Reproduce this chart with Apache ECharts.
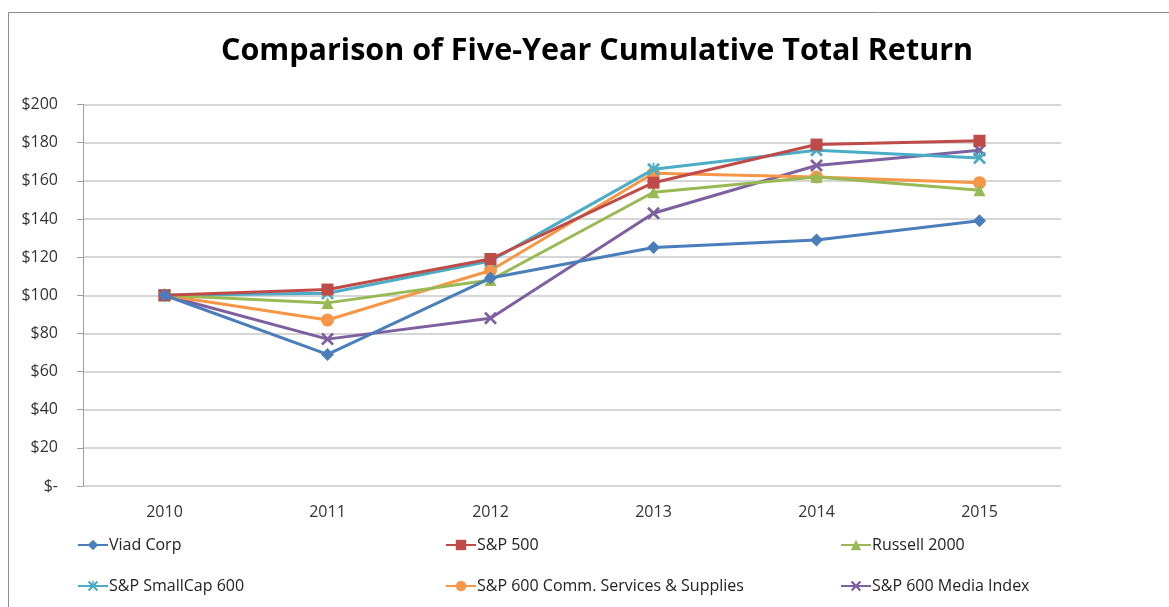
<!DOCTYPE html>
<html>
<head>
<meta charset="utf-8">
<script src="https://cdn.jsdelivr.net/npm/echarts@6/dist/echarts.min.js"></script>
<style>html,body{margin:0;padding:0;background:#fff}#c{width:1169px;height:607px}</style>
</head>
<body>
<div id="c"></div>
<script>
const years = ['2010','2011','2012','2013','2014','2015'];
const viad = [100, 69, 109, 125, 129, 139];
const sp500 = [100, 103, 119, 159, 179, 181];
const russell = [100, 96, 108, 154, 162, 155];
const smallcap = [100, 101, 118, 166, 176, 172];
const commServ = [100, 87, 113, 164, 162, 159];
const media = [100, 77, 88, 143, 168, 176];
const seriesNames = ['Viad Corp','S&P 500','Russell 2000','S&P SmallCap 600','S&P 600 Comm. Services & Supplies','S&P 600 Media Index'];
const yTicks = [0,20,40,60,80,100,120,140,160,180,200];

const colors = ['#4A7EBB','#BE4B48','#98B954','#4BACC6','#F79646','#7D60A0'];
const xPath = 'path://M0,1.5L1.5,0L5,3.5L8.5,0L10,1.5L6.5,5L10,8.5L8.5,10L5,6.5L1.5,10L0,8.5L3.5,5Z';
const starPath = 'path://M0,1.5L1.5,0L4.3,2.8L4.3,0L5.7,0L5.7,2.8L8.5,0L10,1.5L6.5,5L10,8.5L8.5,10L5,6.5L1.5,10L0,8.5L3.5,5Z';
const symbols = ['diamond','rect','triangle',starPath,'circle',xPath];
const sizes = [13,12,12,13,13,13];
const datasets = [viad, sp500, russell, smallcap, commServ, media];

const font = 'Open Sans, Noto Sans, sans-serif';
const legendPos = [[72,532],[440,532],[835,532],[72,573],[440,573],[835,573]];

const chart = echarts.init(document.getElementById('c'));
chart.setOption({
  animation: false,
  backgroundColor: '#fff',
  title: {
    text: 'Comparison of Five-Year Cumulative Total Return',
    left: 216, top: 31,
    textStyle: {fontFamily: font, fontSize: 30.5, fontWeight: 'bold', color: '#000'}
  },
  graphic: [{
    type: 'rect', shape: {x: 8.5, y: 12.5, width: 1200, height: 700},
    style: {fill: 'none', stroke: '#8c8c8c', lineWidth: 1}, silent: true
  }],
  legend: seriesNames.map((n, i) => ({
    data: [n], left: legendPos[i][0], top: legendPos[i][1],
    itemWidth: 30, itemHeight: 13, itemGap: 2,
    textStyle: {fontFamily: font, fontSize: 16, color: '#222', padding: [0,0,0,-4]}
  })),
  grid: {left: 83, right: 108, top: 104.5, bottom: 121, containLabel: false},
  xAxis: {
    type: 'category', data: years, boundaryGap: true,
    axisLine: {show: false},
    axisTick: {show: false},
    axisLabel: {fontFamily: font, fontSize: 16, color: '#333', margin: 18}
  },
  yAxis: {
    type: 'value', min: 0, max: 200, interval: 20,
    axisLine: {show: true, lineStyle: {color: '#a0a0a0'}},
    axisTick: {show: true, length: 6, lineStyle: {color: '#a0a0a0'}},
    splitLine: {lineStyle: {color: '#c8c8c8', width: 1.5}},
    axisLabel: {fontFamily: font, fontSize: 16, color: '#333', margin: 25,
      formatter: v => yTicks.includes(v) ? (v === 0 ? '$-' : '$' + v) : ''}
  },
  series: datasets.map((d, i) => ({
    name: seriesNames[i], type: 'line', data: d,
    symbol: symbols[i], symbolSize: sizes[i], showAllSymbol: true,
    lineStyle: {color: colors[i], width: 3},
    itemStyle: {color: colors[i]},
    z: i === 0 ? 10 : 5 - i
  }))
});
</script>
</body>
</html>
